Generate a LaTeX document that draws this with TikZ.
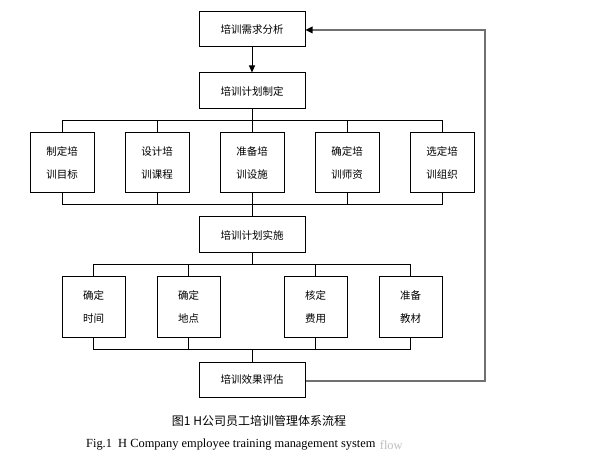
\documentclass[tikz,border=0pt]{standalone}
\usepackage{fontspec}
\setmainfont{Liberation Serif}
\newfontfamily\cjk{Noto Sans CJK SC}
\usetikzlibrary{arrows.meta}
\definecolor{fbgray}{HTML}{707070}
\tikzset{
  box/.style={draw, line width=1pt, inner sep=0pt, align=center,
    font=\cjk\fontsize{10.5}{23}\selectfont},
  wide/.style={box, minimum width=106pt, minimum height=35pt},
  item/.style={box, minimum width=64pt, minimum height=60pt},
  item2/.style={box, minimum width=63pt, minimum height=60pt},
  link/.style={line width=1pt},
  fb/.style={line width=1.4pt, color=fbgray},
}
\begin{document}
\begin{tikzpicture}[x=1pt,y=-1pt]
\useasboundingbox (0,0) rectangle (594,470);
\fill[white] (0,0) rectangle (594,470);

\node[wide] (a) at (252,29.5) {培训需求分析};
\node[wide, minimum height=36pt] (b) at (252,91) {培训计划制定};

\node[item] (t1) at (62,163) {制定培\\训目标};
\node[item] (t2) at (157,163) {设计培\\训课程};
\node[item] (t3) at (252,163) {准备培\\训设施};
\node[item] (t4) at (347,163) {确定培\\训师资};
\node[item] (t5) at (442,163) {选定培\\训组织};

\node[wide, minimum height=36pt] (c) at (252,235) {培训计划实施};

\node[item2] (u1) at (93.5,307) {确定\\时间};
\node[item2] (u2) at (188.5,307) {确定\\地点};
\node[item2] (u3) at (315.5,307) {核定\\费用};
\node[item2] (u4) at (410.5,307) {准备\\教材};

\node[wide] (d) at (252,379.5) {培训效果评估};

\coordinate (bus1) at (0,121);
\coordinate (bus2) at (0,205);
\coordinate (bus3) at (0,265);
\coordinate (bus4) at (0,349);
\coordinate (fbr) at (485,0);

\draw[link, -{Triangle[length=7pt,width=6pt]}] (a) -- (b);

% upper row
\draw[link] (b.south) -- (b.south |- bus1);
\draw[link] (t1.north) |- (t5.north |- bus1) -- (t5.north);
\foreach \n in {t2,t3,t4} \draw[link] (\n.north) -- (\n.north |- bus1);
\draw[link] (t1.south) |- (t5.south |- bus2) -- (t5.south);
\foreach \n in {t2,t3,t4} \draw[link] (\n.south) -- (\n.south |- bus2);
\draw[link] (c.north |- bus2) -- (c.north);

% lower row
\draw[link] (c.south) -- (c.south |- bus3);
\draw[link] (u1.north) |- (u4.north |- bus3) -- (u4.north);
\foreach \n in {u2,u3} \draw[link] (\n.north) -- (\n.north |- bus3);
\draw[link] (u1.south) |- (u4.south |- bus4) -- (u4.south);
\foreach \n in {u2,u3} \draw[link] (\n.south) -- (\n.south |- bus4);
\draw[link] (d.north |- bus4) -- (d.north);

% feedback
\draw[fb] ([yshift=-1.5pt]d.east) -- ([yshift=-1.5pt]d.east -| fbr) -- ([yshift=-0.5pt]a.east -| fbr)
  -- ([xshift=2pt,yshift=-0.5pt]a.east);
\draw[draw=none, fill=black] ([yshift=-0.5pt]a.east) -- ++(7,-3.5) -- ++(0,7) -- cycle;

% captions
\node[font=\cjk\fontsize{12}{14}\selectfont, inner sep=0pt] (cap1) at (259,421) {图1 H公司员工培训管理体系流程};
\node[font=\fontsize{12.4}{14}\selectfont, inner sep=0pt, anchor=west] (cap2) at (86,445) {Fig.1~~H Company employee training management system};
\node[font=\fontsize{12.4}{14}\selectfont, inner sep=0pt, anchor=west, text=black!25] (cap3) at ([xshift=4pt]cap2.east) {flow};
\end{tikzpicture}
\end{document}
